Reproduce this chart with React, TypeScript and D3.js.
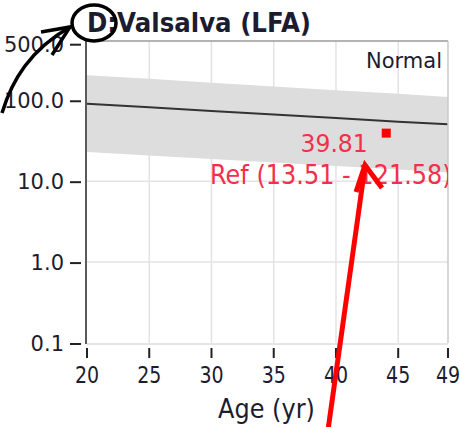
import React from "react";
import * as d3 from "d3";

const title = "D:Valsalva (LFA)";
const xLabel = "Age (yr)";
const ages = [20, 25, 30, 35, 40, 45, 49];
const upper = [204, 184, 165, 148, 133, 120, 110];
const median = [90.5, 81.7, 73.8, 66.6, 60.2, 54.3, 50.4];
const lower = [22.9, 20.7, 18.8, 17.0, 15.4, 13.9, 12.8];
const patientAge = [44];
const patientValue = [39.81];
const refLow = 13.51;
const refHigh = 121.58;
const yTicks = [0.1, 1, 10, 100, 500];
const xTicks = [20, 25, 30, 35, 40, 45, 49];
const statusLabel = "Normal";

const W = 460;
const H = 427;
const L = 87, R = 448, T = 41, B = 343;

function Txt(props: {
  x: number;
  y: number;
  sy?: number;
  size: number;
  anchor?: string;
  fill: string;
  bold?: boolean;
  children: React.ReactNode;
}) {
  const { x, y, sy = 1, size, anchor = "start", fill, bold, children } = props;
  return (
    <g transform={`translate(${x},${y}) scale(1,${sy})`}>
      <text x={0} y={0} textAnchor={anchor} fontSize={size} fill={fill} fontWeight={bold ? "bold" : "normal"}>
        {children}
      </text>
    </g>
  );
}

export default function App() {
  const x = d3.scaleLinear().domain([20, 49]).range([L, R]);
  const y = d3.scaleLog().domain([0.1, 540]).range([B, T]);
  const band = d3
    .area<number>()
    .x((_, i) => x(ages[i]))
    .y0((_, i) => y(lower[i]))
    .y1((_, i) => y(upper[i]));
  const line = d3
    .line<number>()
    .x((_, i) => x(ages[i]))
    .y((d) => y(d));
  const font = "'DejaVu Sans', Verdana, sans-serif";
  const textCol = "#1c1c30";
  const red = "#f2304a";
  const px = x(patientAge[0]);
  const py = y(patientValue[0]);
  return (
    <svg
      width={W}
      height={H}
      style={{ position: "absolute", left: 0, top: 0, background: "#fff" }}
      fontFamily={font}
    >
      <defs>
        <clipPath id="plot">
          <rect x={L} y={T} width={R - L} height={B - T} />
        </clipPath>
      </defs>
      <rect x={0} y={0} width={W} height={H} fill="#fff" />
      {/* grid */}
      {xTicks.slice(1, -1).map((t) => (
        <line key={"gx" + t} x1={x(t)} x2={x(t)} y1={T} y2={B} stroke="#e4e2e6" strokeWidth={1.5} />
      ))}
      {yTicks.slice(1, -1).map((t) => (
        <line key={"gy" + t} x1={L} x2={R} y1={y(t)} y2={y(t)} stroke="#e4e2e6" strokeWidth={1.5} />
      ))}
      {/* band */}
      <path d={band(upper) || ""} fill="#dddddd" />
      <path d={line(median) || ""} fill="none" stroke="#333" strokeWidth={2} />
      {/* border */}
      <line x1={L} x2={R} y1={T} y2={T} stroke="#9a9a9a" strokeWidth={1.5} />
      <line x1={R} x2={R} y1={T} y2={B} stroke="#c8c8c8" strokeWidth={1.5} />
      <line x1={L} x2={R} y1={B + 1} y2={B + 1} stroke="#dcdcdc" strokeWidth={1.5} />
      <line x1={L - 1} x2={L - 1} y1={T} y2={B + 1} stroke="#5a5a5a" strokeWidth={2} />
      {/* y axis ticks */}
      {yTicks.map((t) => (
        <g key={"yt" + t}>
          <line x1={70} x2={81} y1={y(t) + 1} y2={y(t) + 1} stroke="#222" strokeWidth={2} />
          <Txt x={64} y={y(t) + 8} size={21} anchor="end" fill={textCol}>
            {t.toFixed(1)}
          </Txt>
        </g>
      ))}
      {/* x axis ticks */}
      {xTicks.map((t) => (
        <g key={"xt" + t}>
          <line x1={x(t)} x2={x(t)} y1={348} y2={358} stroke="#222" strokeWidth={2} />
          <Txt x={x(t)} y={383} size={19} sy={1.22} anchor="middle" fill={textCol}>
            {t}
          </Txt>
        </g>
      ))}
      <Txt x={(L + R) / 2 - 1} y={418} size={24} sy={1.08} anchor="middle" fill={textCol}>
        {xLabel}
      </Txt>
      <Txt x={87} y={32} size={24.5} sy={1.06} bold fill={textCol}>
        {title}
      </Txt>
      <Txt x={442} y={68} size={21} anchor="end" fill={textCol}>
        {statusLabel}
      </Txt>
      {/* patient value */}
      <rect x={px - 4} y={py - 4} width={9} height={9} fill="#ff0000" />
      <g clipPath="url(#plot)">
        <Txt x={px - 18} y={152} size={23.5} sy={1.08} anchor="end" fill={red}>
          {patientValue[0].toFixed(2)}
        </Txt>
        <Txt x={210} y={184} size={24} sy={1.08} fill={red}>
          {`Ref (${refLow.toFixed(2)} - ${refHigh.toFixed(2)})`}
        </Txt>
      </g>
      {/* annotations */}
      <ellipse cx={94} cy={23} rx={22} ry={18} fill="none" stroke="#000" strokeWidth={3.5} />
      <path d="M2,113 C12,80 30,50 70,27" fill="none" stroke="#000" strokeWidth={3.5} />
      <path d="M41,32 L70,27 L52,55" fill="none" stroke="#000" strokeWidth={3.5} />
      <path d="M328,430 C338,360 352,260 365,166" fill="none" stroke="#ff0000" strokeWidth={5} />
      <path d="M356,192 L365,165 L382,188" fill="none" stroke="#ff0000" strokeWidth={5} />
    </svg>
  );
}
